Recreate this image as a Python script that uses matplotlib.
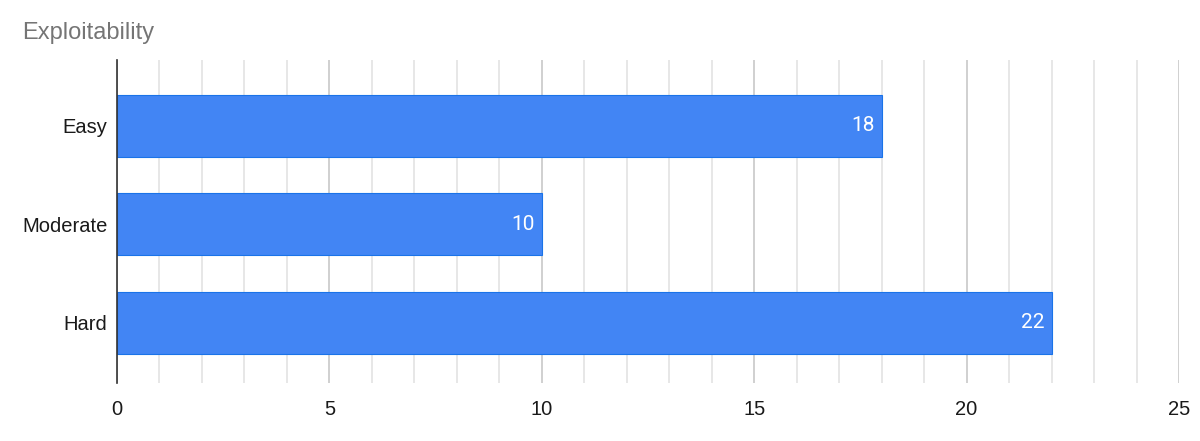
import matplotlib.pyplot as plt
from matplotlib.ticker import MultipleLocator

plt.rcParams['font.family'] = ['Liberation Sans', 'DejaVu Sans']

# Data
categories = ["Easy", "Moderate", "Hard"]
counts = [18, 10, 22]
x_ticks = [0, 5, 10, 15, 20, 25]

fig = plt.figure(figsize=(12, 4.41), dpi=100)
ax = fig.add_axes([0.0975, 0.1315, 0.885, 0.7325])

pos = list(range(len(categories)))
bars = ax.barh(pos, counts, height=0.63, color="#4285f4",
               edgecolor="#1a73e8", linewidth=0.8, zorder=3)

# value labels inside the bar ends
for b, v in zip(bars, counts):
    ax.text(b.get_width() - 0.17, b.get_y() + b.get_height() / 2, str(v),
            ha="right", va="center", color="white", fontsize=15,
            family=["Roboto", "DejaVu Sans"], zorder=4)

ax.set_xlim(0, 25)
ax.set_ylim(2.61, -0.67)
ax.set_yticks(pos)
ax.set_yticklabels(categories)
ax.set_xticks(x_ticks)
ax.xaxis.set_minor_locator(MultipleLocator(1))

ax.grid(axis="x", which="major", color="#c8c8c8", linewidth=1.2, zorder=0)
ax.grid(axis="x", which="minor", color="#e3e3e3", linewidth=1.2, zorder=0)

for s in ["top", "right", "bottom"]:
    ax.spines[s].set_visible(False)
ax.spines["left"].set_color("#333333")
ax.spines["left"].set_linewidth(1.2)
ax.spines["left"].set_zorder(5)

ax.tick_params(axis="both", which="both", length=0, labelsize=14.5, colors="#1a1a1a")
ax.tick_params(axis="x", pad=12)
ax.tick_params(axis="y", pad=7)

fig.text(22 / 1200, 1 - 33 / 441, "Exploitability", fontsize=17, color="#757575",
         ha="left", va="center")

fig.savefig("out.png", dpi=100)
